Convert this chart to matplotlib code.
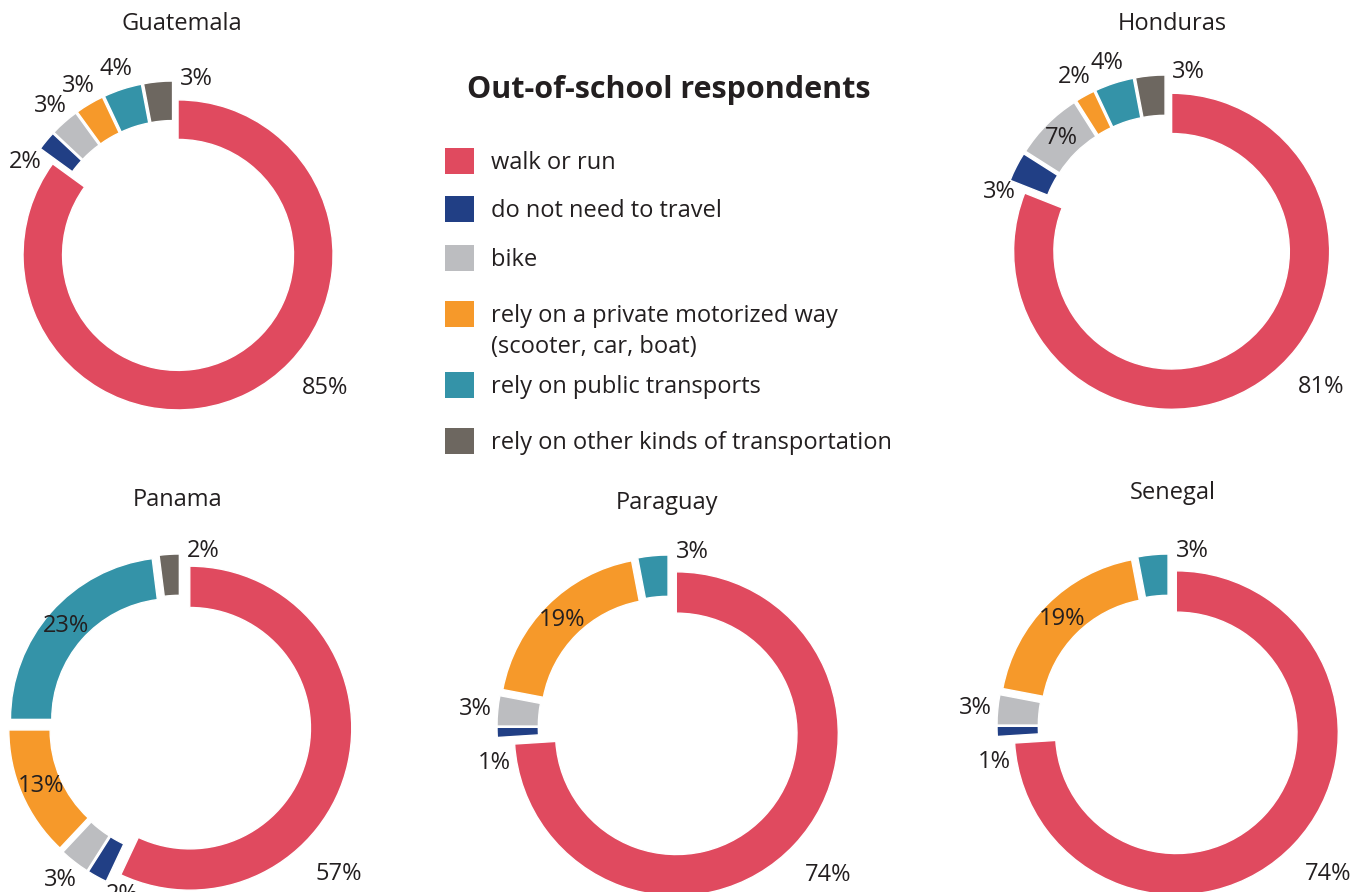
import numpy as np
import matplotlib
matplotlib.use("Agg")
import matplotlib.pyplot as plt
from matplotlib.patches import Rectangle

plt.rcParams['font.family'] = ['Open Sans', 'DejaVu Sans']

# data (% of out-of-school respondents by way of travel)
categories = ['walk or run', 'do not need to travel', 'bike',
              'rely on a private motorized way\n(scooter, car, boat)',
              'rely on public transports',
              'rely on other kinds of transportation']
countries = ['Guatemala', 'Honduras', 'Panama', 'Paraguay', 'Senegal']
guatemala = [85, 2, 3, 3, 4, 3]
honduras = [81, 3, 7, 2, 4, 3]
panama = [57, 2, 3, 13, 23, 2]
paraguay = [74, 1, 3, 19, 3, 0]
senegal = [74, 1, 3, 19, 3, 0]
values = [guatemala, honduras, panama, paraguay, senegal]

colors = ['#E04A5F', '#213F85', '#BCBDC0', '#F6992A', '#3493A8', '#6D6760']
txt_color = '#231F20'

# layout, in pixels of the 1357x892 canvas (y measured from the top)
W, H = 1357, 892
centers = [(173.5, 246), (1166, 243), (180, 726), (669, 727), (1169, 726)]
radii = [155, 158, 162, 162, 162]
title_pos = [(182, 24), (1172, 24), (178, 500), (667, 503), (1173, 493)]
expl = 10

fig = plt.figure(figsize=(W / 100, H / 100), dpi=100)
ax = fig.add_axes([0, 0, 1, 1])

for name, vals, (cx, cy), R, (tx, ty) in zip(countries, values, centers, radii, title_pos):
    cy = H - cy
    keep = [i for i, v in enumerate(vals) if v > 0]
    v = [vals[i] for i in keep]
    c = [colors[i] for i in keep]
    w = 0.255 * R
    wedges, _ = ax.pie(v, colors=c, startangle=90, counterclock=False,
                       radius=R, center=(cx, cy), explode=[expl] * len(v),
                       wedgeprops=dict(width=w, edgecolor='white', linewidth=1))
    n = len(wedges)
    for i, (wd, val) in enumerate(zip(wedges, v)):
        mid = np.deg2rad(0.5 * (wd.theta1 + wd.theta2))
        ha = 'center'
        if i == 0:
            ang, d = np.deg2rad(-43), 1.34 * R
            x, y = cx + d * np.cos(ang), cy + d * np.sin(ang)
        elif i == n - 1 and np.rad2deg(mid) < 100:
            x, y = cx + 0.04 * R, cy + 1.08 * R
            ha = 'left'
        elif val >= 7:
            d = R - w / 2 + expl
            x, y = cx + d * np.cos(mid), cy + d * np.sin(mid)
        elif i == 1:
            ang, d = mid + np.deg2rad(10), 1.1 * R
            x, y = cx + d * np.cos(ang), cy + d * np.sin(ang)
        else:
            d = 1.2 * R
            x, y = cx + d * np.cos(mid), cy + d * np.sin(mid)
        ax.text(x, y, f'{val}%', ha=ha, va='center', fontsize=17, color=txt_color)
    ax.text(tx, H - ty, name, ha='center', va='center', fontsize=17, color=txt_color)

# legend
ax.text(669, H - 90, 'Out-of-school respondents', ha='center', va='center',
        fontsize=22, fontweight='bold', color=txt_color)
leg_y = [161, 209, 258, 314, 385, 441]
for lab, col, y in zip(categories, colors, leg_y):
    ax.add_patch(Rectangle((445, H - y - 13), 29, 26, facecolor=col, edgecolor='none'))
    for k, line in enumerate(lab.split('\n')):
        ax.text(491, H - y - 4 - 31 * k + 2, line, ha='left', va='center',
                fontsize=17, color=txt_color)

ax.set_xlim(0, W)
ax.set_ylim(0, H)
ax.set_aspect('equal')
ax.axis('off')

fig.savefig('out.png', dpi=100)
